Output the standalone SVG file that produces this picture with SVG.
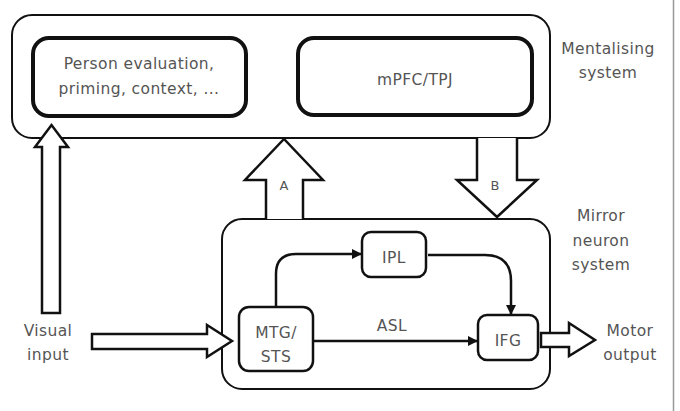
<svg xmlns="http://www.w3.org/2000/svg" width="680" height="411" viewBox="0 0 680 411">
<defs>
<marker id="ah" viewBox="0 0 10 10" refX="9" refY="5" markerWidth="10" markerHeight="10" markerUnits="userSpaceOnUse" orient="auto">
<path d="M0,0 L10,5 L0,10 Z" fill="#111"/>
</marker>
</defs>
<style>
.t{font-family:"DejaVu Sans",sans-serif;font-size:15.5px;letter-spacing:0.4px;fill:#555;text-anchor:middle}
.box{fill:#fff;stroke:#111;stroke-width:2}
.thick{fill:#fff;stroke:#111;stroke-width:4}
.mbox{fill:#fff;stroke:#111;stroke-width:2.5}
.arr{fill:#fff;stroke:#111;stroke-width:2.5;stroke-linejoin:miter}
.con{fill:none;stroke:#111;stroke-width:2.5}
</style>
<rect width="680" height="411" fill="#fff"/>
<line x1="673.5" y1="0" x2="673.5" y2="411" stroke="#999" stroke-width="1.5"/>

<g id="mentalising">
<rect class="box" x="12" y="15" width="538" height="123" rx="20"/>
<text class="t" x="608" y="54">Mentalising</text>
<text class="t" x="608" y="78">system</text>
</g>
<g id="person">
<rect class="thick" x="33" y="38" width="213" height="78" rx="16"/>
<text class="t" x="139" y="69">Person evaluation,</text>
<text class="t" x="139" y="94">priming, context, ...</text>
</g>
<g id="mpfc">
<rect class="thick" x="298" y="38" width="234" height="77" rx="16"/>
<text class="t" x="415" y="85">mPFC/TPJ</text>
</g>

<g id="mirror">
<rect class="box" x="222" y="219" width="328" height="170" rx="20"/>
<text class="t" x="601" y="221">Mirror</text>
<text class="t" x="601" y="246">neuron</text>
<text class="t" x="601" y="270">system</text>
</g>
<g id="mtg">
<rect class="mbox" x="239" y="307" width="74" height="64" rx="10"/>
<text class="t" x="276" y="338">MTG/</text>
<text class="t" x="276" y="362">STS</text>
</g>
<g id="ipl">
<rect class="mbox" x="362" y="232" width="64" height="45" rx="9"/>
<text class="t" x="394" y="263">IPL</text>
</g>
<g id="ifg">
<rect class="mbox" x="478" y="315" width="60" height="45" rx="9"/>
<text class="t" x="508" y="346">IFG</text>
</g>

<g id="connectors">
<path class="con" d="M276,307 V274 Q276,254 296,254 H361" marker-end="url(#ah)"/>
<path class="con" d="M428,255 H485 Q511,255 511,281 V314" marker-end="url(#ah)"/>
<path class="con" d="M313,341 H477" marker-end="url(#ah)"/>
<text class="t" x="392" y="331">ASL</text>
<path class="arr" d="M42,313 V147 H35 L51.5,125 L68,147 H60 V313 Z"/>
<path class="arr" d="M266,219 V180 H245 L284,139 L323,180 H303 V219"/>
<text class="t" x="284" y="190" style="font-size:13px;letter-spacing:0">A</text>
<path class="arr" d="M477,138 V180 H457 L497,217 L537,180 H517 V138"/>
<text class="t" x="495" y="190" style="font-size:13px;letter-spacing:0">B</text>
<path class="arr" d="M92,334 H207 V325 L232,341 L207,357 V349 H92 Z"/>
<path class="arr" d="M541,333 H569 V323 L595,340 L569,356 V347 H541 Z"/>
</g>
<g id="labels">
<text class="t" x="48" y="336">Visual</text>
<text class="t" x="48" y="360">input</text>
<text class="t" x="630" y="336">Motor</text>
<text class="t" x="630" y="360">output</text>
</g>
</svg>
